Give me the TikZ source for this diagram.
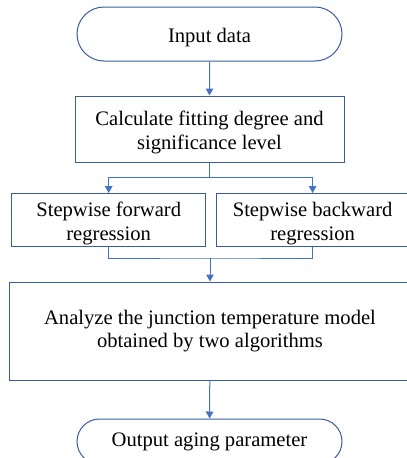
\documentclass[tikz,border=0pt]{standalone}
\usepackage{fontspec}
\setmainfont{Liberation Serif}
\usetikzlibrary{arrows.meta,shapes.misc}
\definecolor{flowline}{RGB}{68,114,196}
\definecolor{flowedge}{RGB}{58,92,165}
% invisible rule that lifts the first line's top, lowering the text block
\newcommand\topstrut{\rule{0pt}{21pt}}
\begin{document}
\begin{tikzpicture}[x=1pt,y=1pt,
  base/.style={draw=flowedge,line width=1pt,align=center,inner sep=2pt,
    font=\fontsize{20.6pt}{23.5pt}\selectfont},
  term/.style={base,rounded rectangle,minimum width=269pt},
  proc/.style={base,rectangle},
  link/.style={draw=flowline,line width=1pt},
  arr/.style={link,-{Triangle[length=7pt,width=7.5pt]}}]
\useasboundingbox (0,0) rectangle (407,-458);

% terminals and process boxes
\node[term,minimum height=54pt] (in) at (209.5,-34) {\topstrut Input data};
\node[proc,minimum width=269pt,minimum height=66pt] (calc) at (209.5,-129)
  {\topstrut Calculate fitting degree and\\significance level};
\node[proc,minimum width=194pt,minimum height=48pt] (fwd) at (108.7,-220)
  {\topstrut Stepwise forward\\regression};
\node[proc,minimum width=193pt,minimum height=48pt] (bwd) at (312.6,-220)
  {\topstrut Stepwise backward\\regression};
\node[proc,minimum width=401pt,minimum height=98pt] (ana) at (210,-331)
  {Analyze the junction temperature model\\obtained by two algorithms};
\node[term,minimum height=45pt] (out) at (209.5,-441.5) {Output aging parameter};

% connectors
\draw[arr] (in) -- (calc);
\coordinate (split) at (209.5,-177);
\draw[link] (calc.south) -- (split);
\draw[arr] (split) -| (fwd.north);
\draw[arr] (split) -| (bwd.north);
\coordinate (merge) at (210,-258);
\draw[link] (fwd.south) |- (merge) -| (bwd.south);
\draw[arr] (merge) -- (ana.north);
\draw[arr] (ana) -- (out);
\end{tikzpicture}
\end{document}
